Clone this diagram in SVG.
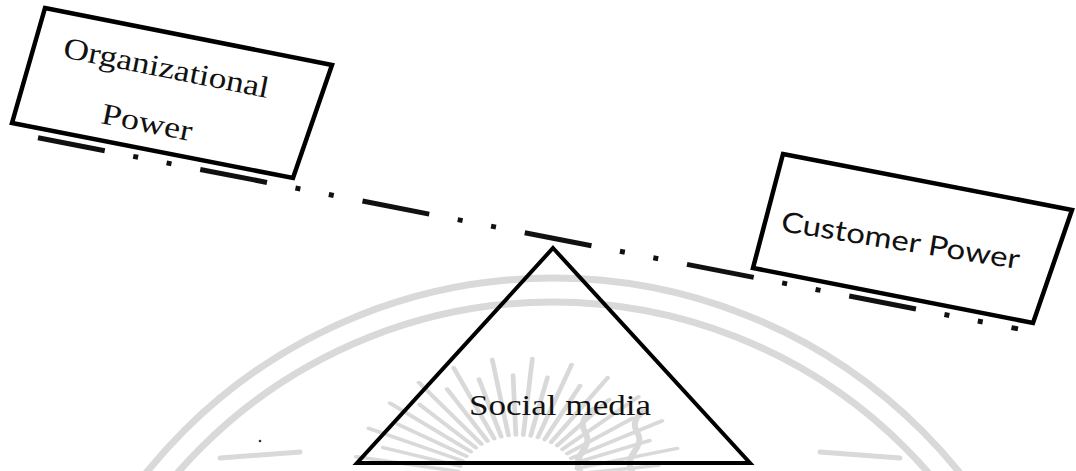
<svg xmlns="http://www.w3.org/2000/svg" xmlns:xlink="http://www.w3.org/1999/xlink" width="1076" height="471" viewBox="0 0 1076 471">
<style>
.wm{fill:none;stroke:#d9d9d9;stroke-linecap:round}
.box{fill:#ffffff;stroke:#000;stroke-width:4.5;stroke-linejoin:miter}
.serif{font-family:"Liberation Serif","Times New Roman",serif;fill:#111}
.sans{font-family:"Lato","Liberation Sans",sans-serif;fill:#111}
.beam{fill:none;stroke:#111;stroke-width:5;stroke-dasharray:68 29 5 29 5 29.3}
</style>
<defs>
<line id="ray" x1="45" y1="0" x2="122" y2="0" class="wm" stroke-width="3.5"/>
<line id="rayS" x1="45" y1="0" x2="105" y2="0" class="wm" stroke-width="3.5"/>
</defs>
<rect width="1076" height="471" fill="#ffffff"/>
<g id="watermark">
<circle cx="553" cy="800" r="522" class="wm" stroke-width="7"/>
<circle cx="553" cy="800" r="498" class="wm" stroke-width="7"/>
<g transform="translate(518 480) scale(1.35 1)">
<use xlink:href="#rayS" transform="rotate(-8)"/>
<use xlink:href="#ray" transform="rotate(-15)"/>
<use xlink:href="#rayS" transform="rotate(-22)"/>
<use xlink:href="#ray" transform="rotate(-29)"/>
<use xlink:href="#rayS" transform="rotate(-36)"/>
<use xlink:href="#ray" transform="rotate(-43)"/>
<use xlink:href="#rayS" transform="rotate(-50)"/>
<use xlink:href="#ray" transform="rotate(-57)"/>
<use xlink:href="#rayS" transform="rotate(-64)"/>
<use xlink:href="#ray" transform="rotate(-71)"/>
<use xlink:href="#rayS" transform="rotate(-78)"/>
<use xlink:href="#ray" transform="rotate(-85)"/>
<use xlink:href="#rayS" transform="rotate(-92)"/>
<use xlink:href="#ray" transform="rotate(-99)"/>
<use xlink:href="#rayS" transform="rotate(-106)"/>
<use xlink:href="#ray" transform="rotate(-113)"/>
<use xlink:href="#rayS" transform="rotate(-120)"/>
<use xlink:href="#ray" transform="rotate(-127)"/>
<use xlink:href="#rayS" transform="rotate(-134)"/>
<use xlink:href="#ray" transform="rotate(-141)"/>
<use xlink:href="#rayS" transform="rotate(-148)"/>
<use xlink:href="#ray" transform="rotate(-155)"/>
<use xlink:href="#rayS" transform="rotate(-162)"/>
<use xlink:href="#ray" transform="rotate(-169)"/>
<use xlink:href="#rayS" transform="rotate(-176)"/>
</g>
<path d="M580 471 C570 455 595 448 585 432 C579 422 587 414 593 410" class="wm" stroke-width="6"/>
<path d="M632 471 C622 455 647 448 637 432 C631 422 639 414 645 410" class="wm" stroke-width="6"/>
<path d="M220 458 L300 452 M820 452 L900 458" class="wm" stroke-width="5"/>
</g>
<g id="connectors">
<line id="beam" x1="38" y1="137.8" x2="1018" y2="328.9" class="beam"/>
</g>
<g id="organizational-power">
<polygon points="45,8 332,65 293,178 12,123" class="box"/>
<text x="62" y="57" class="serif" font-size="30" textLength="209" lengthAdjust="spacingAndGlyphs" transform="rotate(11.3 62 57)">Organizational</text>
<text x="100" y="123" class="serif" font-size="30" textLength="92" lengthAdjust="spacingAndGlyphs" transform="rotate(11.3 100 123)">Power</text>
</g>
<g id="customer-power">
<polygon points="783,154 1072,210 1033,323 753,268" class="box"/>
<text x="780" y="231" class="sans" font-size="28" textLength="241" lengthAdjust="spacingAndGlyphs" transform="rotate(9.1 780 231)">Customer Power</text>
</g>
<g id="social-media">
<polygon points="553,248 750,463 357,463" fill="none" stroke="#000" stroke-width="4" stroke-linejoin="miter"/>
<text x="469" y="415" class="serif" font-size="29" textLength="182" lengthAdjust="spacingAndGlyphs">Social media</text>
</g>
<circle cx="260" cy="441" r="1.3" fill="#333"/>
</svg>
